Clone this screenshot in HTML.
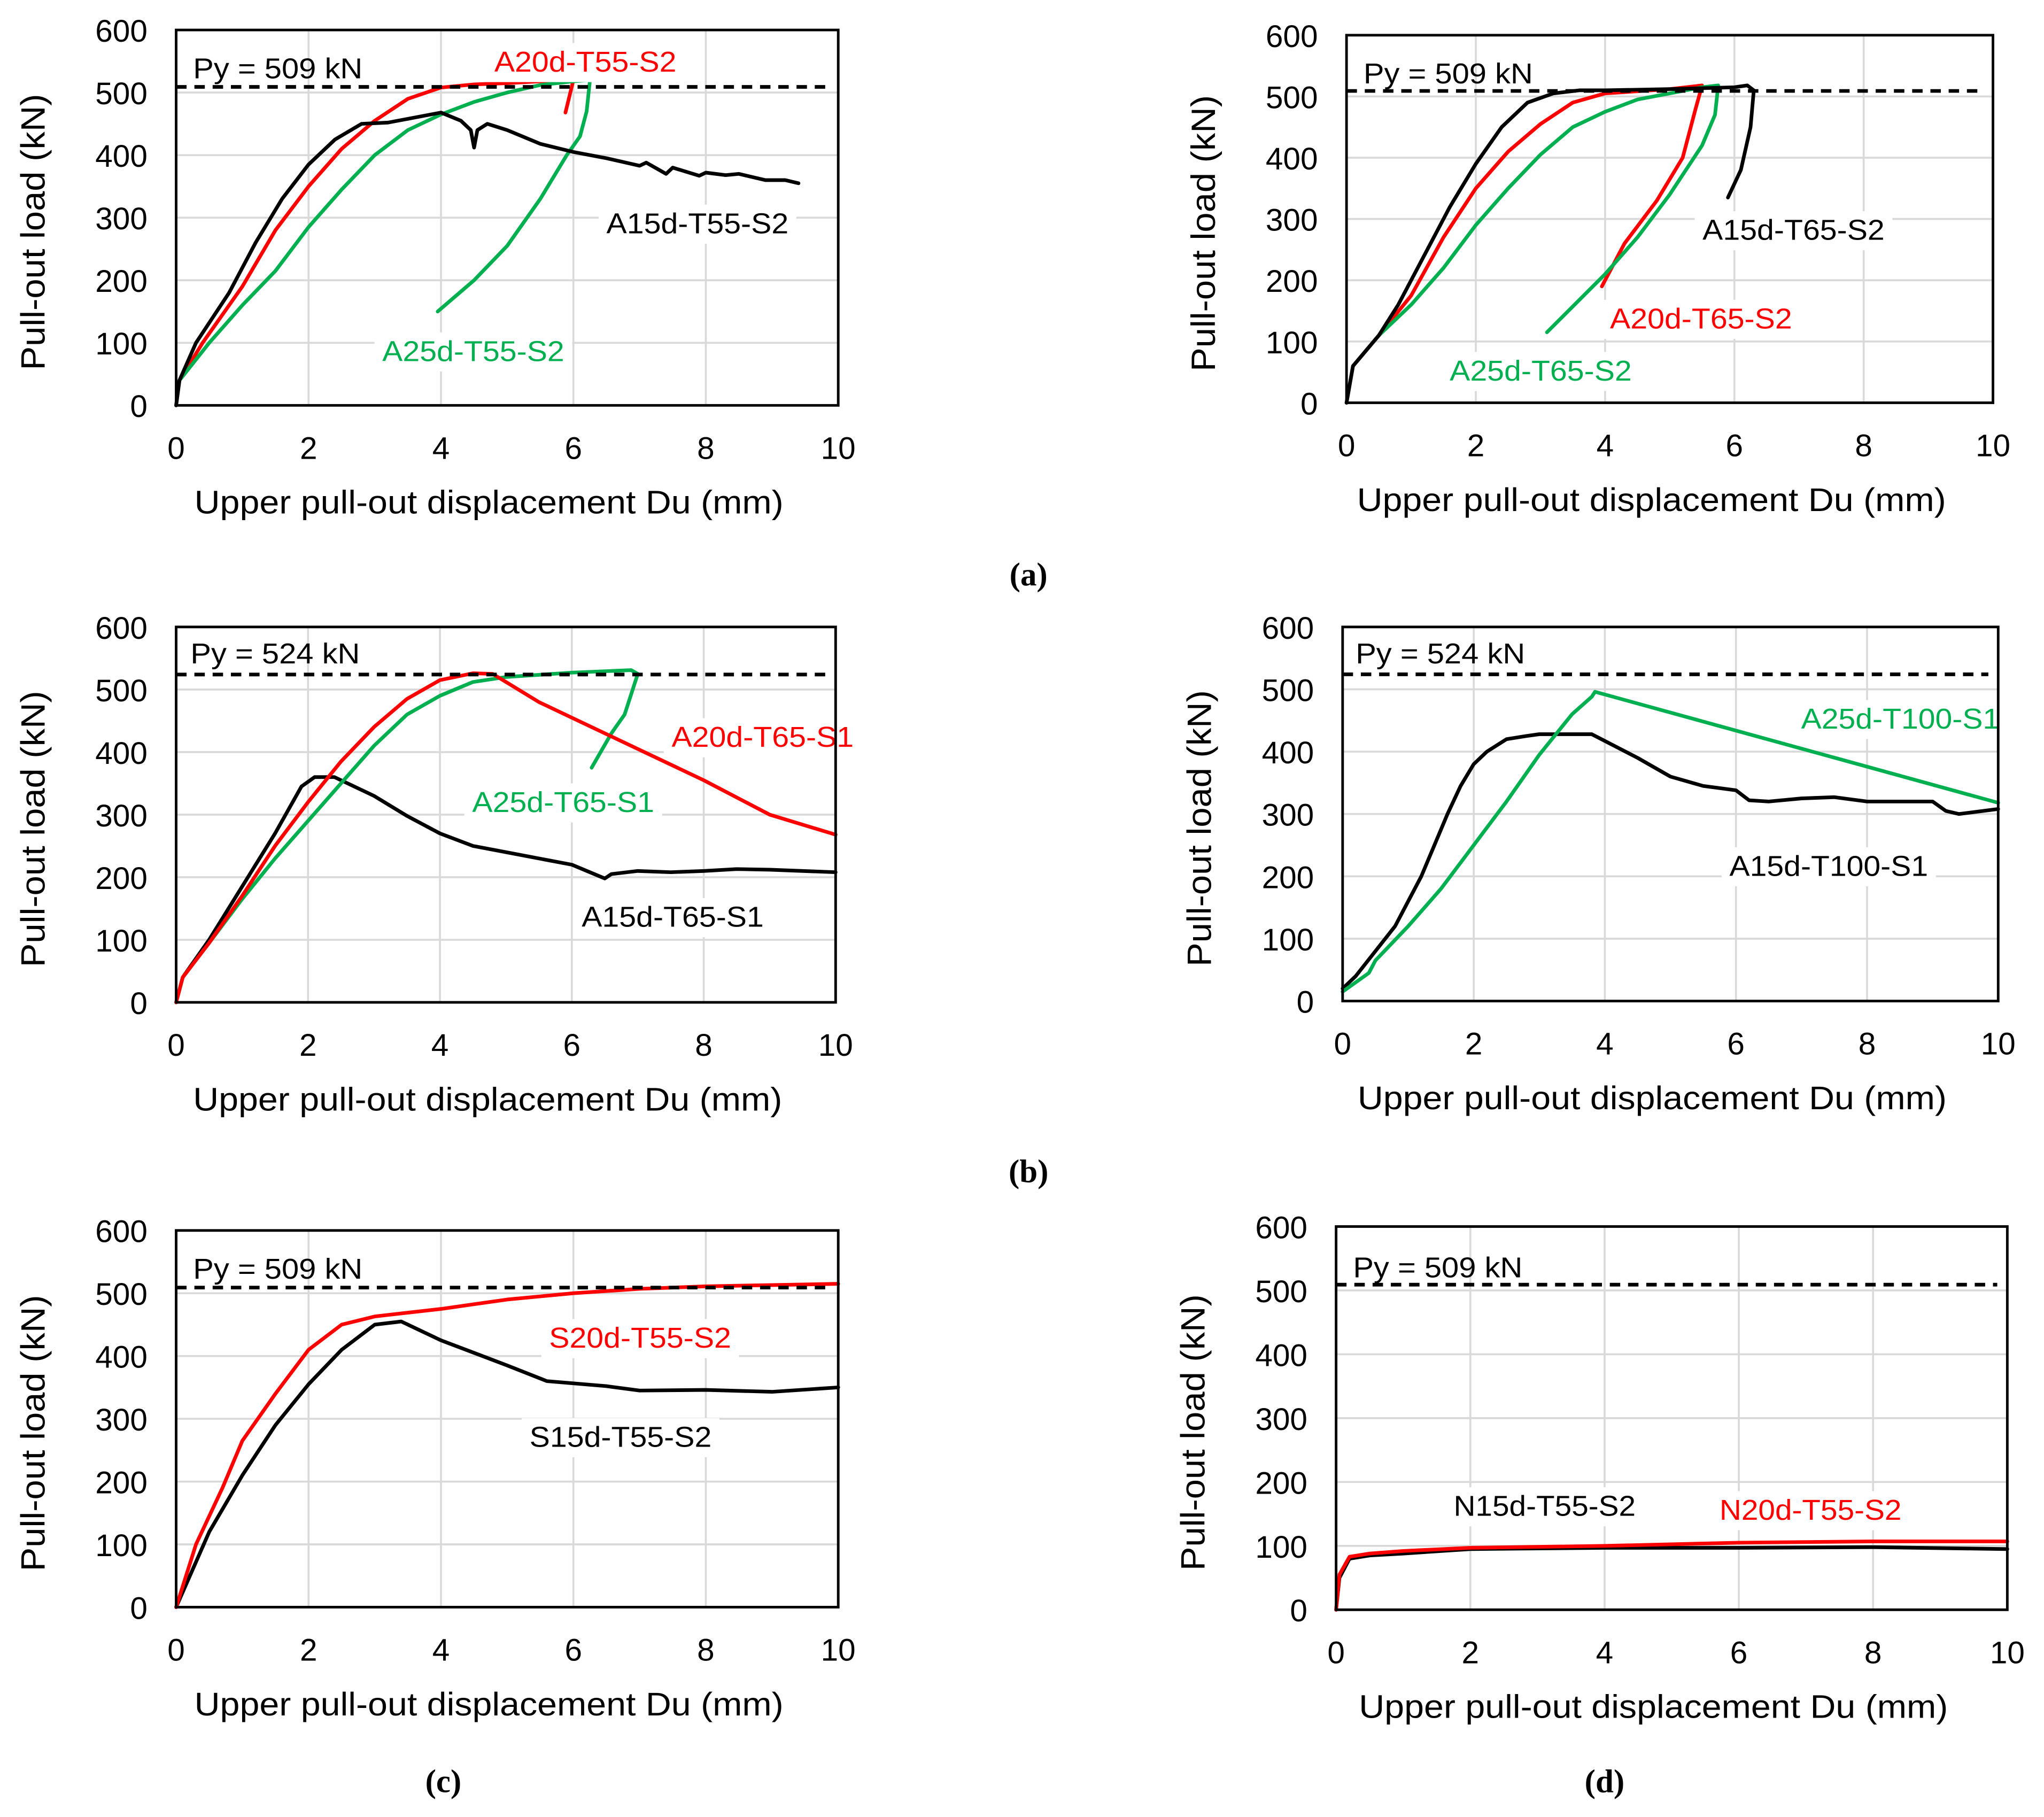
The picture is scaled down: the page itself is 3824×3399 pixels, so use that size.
<!DOCTYPE html>
<html><head><meta charset="utf-8"><style>html,body{margin:0;padding:0;background:#fff}svg{display:block}</style></head>
<body>
<svg id="fig" width="3824" height="3399" viewBox="0 0 1568 1394" xmlns="http://www.w3.org/2000/svg" font-family="'Liberation Sans', sans-serif"></svg>
<script>
// ----- data -----
const xTicks = [0,2,4,6,8,10];
const yTicks = [0,100,200,300,400,500,600];
// panel a-left
const aL_A15 = [[0,0],[0.05,40],[0.3,100],[0.8,180],[1.2,260],[1.6,330],[2,385],[2.4,425],[2.8,450],[3.2,452],[3.6,460],[4,468],[4.3,455],[4.45,440],[4.5,412],[4.55,440],[4.7,450],[5,440],[5.5,418],[6,405],[6.5,395],[7,383],[7.1,388],[7.4,370],[7.5,380],[7.9,367],[8,372],[8.3,368],[8.5,370],[8.9,360],[9.2,360],[9.4,355]];
const aL_A20 = [[0,0],[0.05,40],[0.4,100],[1,190],[1.5,280],[2,350],[2.5,410],[3,455],[3.5,490],[4,508],[4.5,513],[5,515],[5.5,518],[6,520],[5.88,468]];
const aL_A25 = [[0,0],[0.05,40],[0.5,100],[1,160],[1.5,215],[2,285],[2.5,345],[3,400],[3.5,440],[4,465],[4.5,485],[5,500],[5.5,512],[6,518],[6.25,520],[6.2,470],[6.1,430],[5.9,400],[5.5,330],[5,255],[4.5,200],[3.95,150]];
// panel a-right
const aR_A15 = [[0,0],[0.1,60],[0.5,110],[0.8,160],[1.2,240],[1.6,320],[2,390],[2.4,450],[2.8,490],[3.2,505],[3.6,510],[4,510],[5,512],[6,515],[6.2,518],[6.3,510],[6.25,450],[6.1,380],[5.9,335]];
const aR_A20 = [[0,0],[0.1,60],[0.5,110],[1,175],[1.5,270],[2,350],[2.5,410],[3,455],[3.5,490],[4,505],[5,512],[5.5,518],[5.4,480],[5.2,400],[4.8,330],[4.3,260],[3.95,190]];
const aR_A25 = [[0,0],[0.1,60],[0.5,110],[1,160],[1.5,220],[2,290],[2.5,350],[3,405],[3.5,450],[4,475],[4.5,495],[5,505],[5.5,515],[5.75,518],[5.7,470],[5.5,420],[5,340],[4.5,270],[4,210],[3.1,115]];
// panel b-left
const bL_A20 = [[0,0],[0.1,40],[0.5,95],[1,170],[1.5,250],[2,320],[2.5,385],[3,440],[3.5,485],[4,515],[4.5,526],[4.8,525],[5.5,480],[6,455],[7,405],[8,355],[9,300],[10,268]];
const bL_A25 = [[0,0],[0.1,40],[0.5,95],[1,165],[1.5,230],[2,290],[2.5,350],[3,410],[3.5,460],[4,490],[4.5,512],[5,520],[6,527],[6.9,531],[7,525],[6.8,460],[6.6,430],[6.3,375]];
const bL_A15 = [[0,0],[0.1,40],[0.5,100],[1,185],[1.5,270],[1.9,345],[2.1,360],[2.4,360],[3,330],[3.5,298],[4,270],[4.5,250],[5,240],[6,220],[6.5,198],[6.6,205],[7,210],[7.5,208],[8,210],[8.5,213],[9,212],[10,208]];
// panel b-right
const bR_A15 = [[0,20],[0.2,40],[0.5,80],[0.8,120],[1,160],[1.2,200],[1.4,250],[1.6,300],[1.8,345],[2,380],[2.2,400],[2.5,420],[2.8,425],[3,428],[3.8,428],[4.5,390],[5,360],[5.5,345],[6,338],[6.2,322],[6.5,320],[7,325],[7.5,327],[8,320],[8.5,320],[9,320],[9.2,305],[9.4,300],[10,308]];
const bR_A25 = [[0,15],[0.4,45],[0.5,65],[1,120],[1.5,180],[2,250],[2.5,320],[3,395],[3.5,460],[3.8,488],[3.85,496],[10,318]];
// panel c
const c_S20 = [[0,0],[0.3,100],[0.7,190],[1,265],[1.5,340],[2,410],[2.5,450],[3,463],[4,475],[5,490],[6,500],[7,507],[8,511],[10,515]];
const c_S15 = [[0,0],[0.5,120],[1,210],[1.5,290],[2,355],[2.5,410],[3,450],[3.4,455],[4,425],[5,385],[5.6,360],[6.5,352],[7,345],[8,346],[9,343],[10,350]];
// panel d
const d_N15 = [[0,0],[0.05,50],[0.2,80],[0.5,85],[1,88],[2,95],[4,97],[6,97],[8,98],[10,95]];
const d_N20 = [[0,0],[0.05,55],[0.2,83],[0.5,88],[1,92],[2,97],[4,100],[6,105],[8,107],[10,107]];

const NS = "http://www.w3.org/2000/svg";
const svg = document.getElementById('fig');
function mk(tag, attrs, parent){const e=document.createElementNS(NS,tag);for(const k in attrs)e.setAttribute(k,attrs[k]);(parent||svg).appendChild(e);return e;}
function txt(s, attrs, parent){const e=mk('text',attrs,parent);e.textContent=s;return e;}

function panel(cfg){
  const g = mk('g',{});
  
  
  const sx = v => cfg.x0 + (cfg.x1-cfg.x0)*v/10;
  const sy = v => cfg.y0 - (cfg.y0-cfg.y1)*v/600;
  xTicks.forEach(t=>{ if(t>0&&t<10){const l=mk('line',{x1:sx(t),x2:sx(t),y1:sy(0),y2:sy(600),stroke:'#d9d9d9','stroke-width':1.5},g);
    
    }});
  yTicks.forEach(t=>{ if(t>0&&t<600){const l=mk('line',{x1:sx(0),x2:sx(10),y1:sy(t),y2:sy(t),stroke:'#d9d9d9','stroke-width':1.5},g);
    
    }});
  cfg.series.forEach(s=>{
    const p = mk('polyline',{points:s.data.map(d=>sx(d[0])+','+sy(d[1])).join(' '),fill:'none',stroke:s.color,'stroke-width':2.8,'stroke-linejoin':'round','stroke-linecap':'round'},g);
    
    
  });
  const py = mk('line',{x1:sx(0),x2:sx(9.85),y1:sy(cfg.py),y2:sy(cfg.py),stroke:'#000','stroke-width':2.8,'stroke-dasharray':'8,6'},g);
  
  
  cfg.labels.forEach(L=>{
    const w = L.t.length*12.7+12;
    const r = mk('rect',{x:L.x-w/2,y:L.y-22,width:w,height:30,fill:'#fff'},g);
    
    
    const t = txt(L.t,{x:L.x,y:L.y,'text-anchor':'middle','font-size':22,fill:L.c,textLength:L.t.length*12.7,lengthAdjust:'spacingAndGlyphs'},g);
    
    
  });
  const pys='Py = '+cfg.py+' kN';
  const pt = txt(pys,{x:cfg.pyx,y:cfg.pyy,'font-size':22,fill:'#000',textLength:130,lengthAdjust:'spacingAndGlyphs'},g);
  
  
  const fr = mk('rect',{x:sx(0),y:sy(600),width:sx(10)-sx(0),height:sy(0)-sy(600),fill:'none',stroke:'#000','stroke-width':2},g);
  
  
  xTicks.forEach(t=>{const e=txt(String(t),{x:sx(t),y:cfg.y0+41,'text-anchor':'middle','font-size':24},g);
    
    });
  yTicks.forEach(t=>{const e=txt(String(t),{x:sx(0)-22,y:sy(t)+9,'text-anchor':'end','font-size':24},g);
    
    });
  const xt = txt('Upper pull-out displacement Du (mm)',{x:(sx(0)+sx(10))/2-14,y:cfg.y0+83,'text-anchor':'middle','font-size':25,textLength:452,lengthAdjust:'spacingAndGlyphs'},g);
  
  
  const yx = cfg.x0-101, yy=(cfg.y0+cfg.y1)/2+11;
  const yt = txt('Pull-out load (kN)',{x:yx,y:yy,'text-anchor':'middle','font-size':26,transform:`rotate(-90 ${yx} ${yy})`,textLength:212,lengthAdjust:'spacingAndGlyphs'},g);
  
  
}
const R='#ff0000',K='#000000',G='#00b050';
panel({name:'panel-a-left',x0:135,x1:643,y1:23,y0:311,py:509,pyx:148,pyy:60,
  series:[{id:'A20d-T55-S2',data:aL_A20,color:R},{id:'A25d-T55-S2',data:aL_A25,color:G},{id:'A15d-T55-S2',data:aL_A15,color:K}],
  labels:[{t:'A20d-T55-S2',x:449,y:55,c:R},{t:'A15d-T55-S2',x:535,y:179,c:K},{t:'A25d-T55-S2',x:363,y:277,c:G}]});
panel({name:'panel-a-right',x0:1033,x1:1529,y1:27,y0:309,py:509,pyx:1046,pyy:64,
  series:[{id:'A20d-T65-S2',data:aR_A20,color:R},{id:'A25d-T65-S2',data:aR_A25,color:G},{id:'A15d-T65-S2',data:aR_A15,color:K}],
  labels:[{t:'A15d-T65-S2',x:1376,y:184,c:K},{t:'A20d-T65-S2',x:1305,y:252,c:R},{t:'A25d-T65-S2',x:1182,y:292,c:G}]});
panel({name:'panel-b-left',x0:135,x1:641,y1:481,y0:769,py:524,pyx:146,pyy:509,
  series:[{id:'A15d-T65-S1',data:bL_A15,color:K},{id:'A25d-T65-S1',data:bL_A25,color:G},{id:'A20d-T65-S1',data:bL_A20,color:R}],
  labels:[{t:'A20d-T65-S1',x:585,y:573,c:R},{t:'A25d-T65-S1',x:432,y:623,c:G},{t:'A15d-T65-S1',x:516,y:711,c:K}]});
panel({name:'panel-b-right',x0:1030,x1:1533,y1:481,y0:768,py:524,pyx:1040,pyy:509,
  series:[{id:'A15d-T100-S1',data:bR_A15,color:K},{id:'A25d-T100-S1',data:bR_A25,color:G}],
  labels:[{t:'A25d-T100-S1',x:1458,y:559,c:G},{t:'A15d-T100-S1',x:1403,y:672,c:K}]});
panel({name:'panel-c',x0:135,x1:643,y1:944,y0:1233,py:509,pyx:148,pyy:981,
  series:[{id:'S15d-T55-S2',data:c_S15,color:K},{id:'S20d-T55-S2',data:c_S20,color:R}],
  labels:[{t:'S20d-T55-S2',x:491,y:1034,c:R},{t:'S15d-T55-S2',x:476,y:1110,c:K}]});
panel({name:'panel-d',x0:1025,x1:1540,y1:941,y0:1235,py:509,pyx:1038,pyy:980,
  series:[{id:'N15d-T55-S2',data:d_N15,color:K},{id:'N20d-T55-S2',data:d_N20,color:R}],
  labels:[{t:'N15d-T55-S2',x:1185,y:1163,c:K},{t:'N20d-T55-S2',x:1389,y:1166,c:R}]});
[['(a)',789,449],['(b)',789,907],['(c)',340,1375],['(d)',1231,1375]].forEach(c=>{
  const t=txt(c[0],{x:c[1],y:c[2],'text-anchor':'middle','font-size':25,'font-weight':'bold','font-family':"'Liberation Serif', serif"});
  
  
});
</script>
</body></html>
